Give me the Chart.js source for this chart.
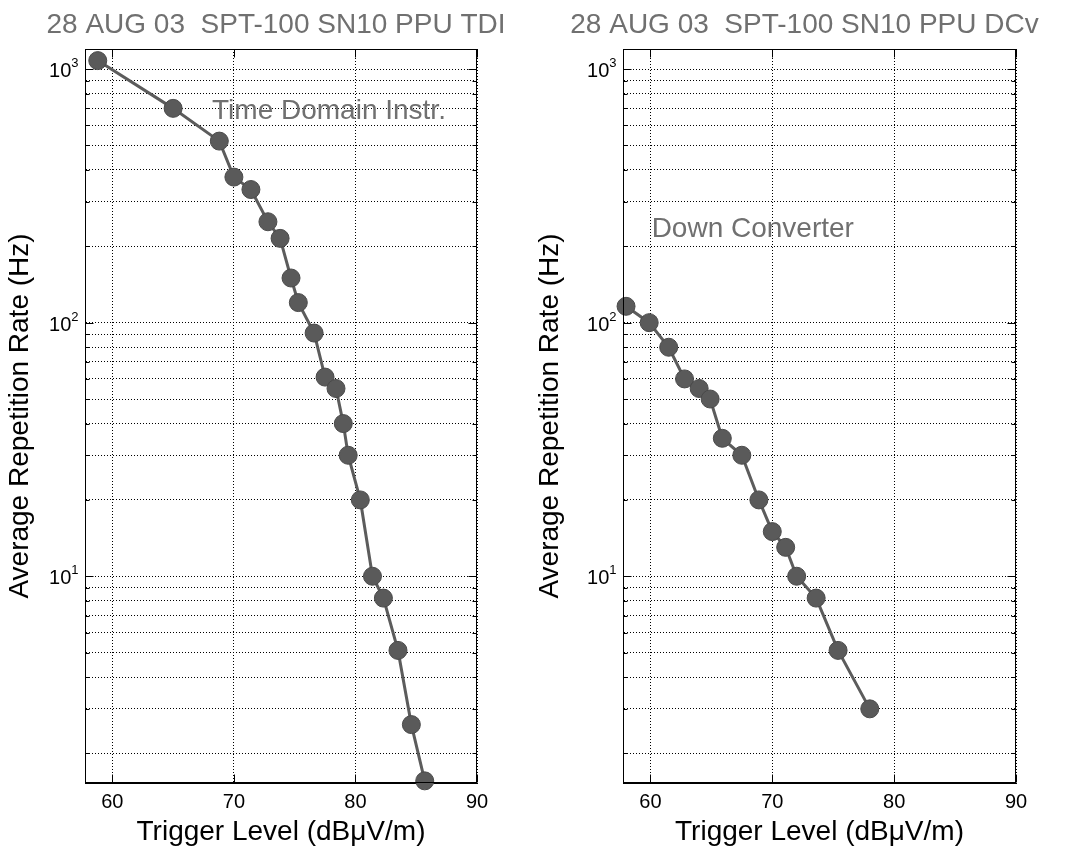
<!DOCTYPE html>
<html>
<head>
<meta charset="utf-8">
<script src="https://cdn.jsdelivr.net/npm/chart.js@4.4.0/dist/chart.umd.min.js"></script>
<style>
  body { margin: 0; background: #fff; }
  #wrap { position: relative; width: 1065px; height: 851px; }
  canvas { position: absolute; top: 0; }
</style>
</head>
<body>
<div id="wrap">
  <canvas id="tdi" width="532" height="851" style="left:0"></canvas>
  <canvas id="dcv" width="533" height="851" style="left:532px"></canvas>
</div>
<script>
const tdiLevel = [58.8, 65.0, 68.8, 70.0, 71.4, 72.8, 73.8, 74.7, 75.3, 76.6, 77.5, 78.4, 79.0, 79.4, 80.4, 81.4, 82.3, 83.5, 84.6, 85.7];
const tdiRate = [1080, 700, 520, 375, 335, 250, 215, 150, 120, 91, 61, 55, 40, 30, 20, 10, 8.2, 5.1, 2.6, 1.56];
const dcvLevel = [58.0, 59.9, 61.5, 62.8, 64.0, 64.9, 65.9, 67.5, 68.9, 70.0, 71.1, 72.0, 73.6, 75.4, 78.0];
const dcvRate = [116, 100, 80, 60, 55, 50, 35, 30, 20, 15, 13, 10, 8.2, 5.1, 3.0];

const xTicks = [60, 70, 80, 90];
const decades = [1, 10, 100, 1000];
const decadeExp = ['0', '1', '2', '3'];
const xMin = 57.75, xMax = 90;
const yMin = 1.53, yMax = 1200;

const FONT = '"Liberation Sans", Arial, sans-serif';
Chart.defaults.font.family = FONT;

function logTicks() {
    const out = [];
    decades.forEach(d => {
        for (let m = 1; m <= 9; m++) {
            const v = m * d;
            if (v >= yMin && v <= yMax) out.push({ value: v, major: m === 1 });
        }
    });
    return out;
}

// matlab style box with inward ticks, 10^n labels and heading
const boxPlugin = {
    id: 'box',
    afterDraw(chart, args, opts) {
        const { ctx, chartArea: a, scales: { x, y } } = chart;
        const L = Math.round(a.left) + 0.5, R = Math.round(a.right) - 0.5;
        const T = Math.round(a.top) + 0.5, B = Math.round(a.bottom) - 0.5;
        ctx.save();
        ctx.strokeStyle = '#000';
        ctx.lineWidth = 1;
        ctx.beginPath();
        x.ticks.forEach(t => {
            const px = Math.round(x.getPixelForValue(t.value)) + 0.5;
            ctx.moveTo(px, B); ctx.lineTo(px, B - 8);
            ctx.moveTo(px, T); ctx.lineTo(px, T + 8);
        });
        y.ticks.forEach(t => {
            const py = Math.round(y.getPixelForValue(t.value)) + 0.5;
            const len = t.major ? 8 : 4;
            ctx.moveTo(L, py); ctx.lineTo(L + len, py);
            ctx.moveTo(R, py); ctx.lineTo(R - len, py);
        });
        ctx.stroke();
        ctx.strokeRect(L, T, R - L, B - T);

        // decade labels with raised exponent
        ctx.fillStyle = '#000';
        ctx.textBaseline = 'alphabetic';
        ctx.textAlign = 'right';
        y.ticks.filter(t => t.major).forEach(t => {
            const py = y.getPixelForValue(t.value);
            const exp = decadeExp[decades.indexOf(t.value)];
            ctx.font = '13px ' + FONT;
            const ew = ctx.measureText(exp).width;
            ctx.fillText(exp, L - 7, py - 2);
            ctx.font = '20px ' + FONT;
            ctx.fillText('10', L - 7 - ew, py + 8);
        });

        // heading
        ctx.font = '28px ' + FONT;
        ctx.fillStyle = '#707070';
        ctx.textAlign = 'center';
        ctx.textBaseline = 'middle';
        ctx.fillText(opts.heading, (a.left + a.right) / 2 + opts.shift, 25);
        ctx.restore();
    }
};

const notePlugin = {
    id: 'note',
    afterDatasetsDraw(chart, args, opts) {
        const { ctx, scales: { x, y } } = chart;
        ctx.save();
        ctx.font = '28px ' + FONT;
        ctx.fillStyle = '#707070';
        ctx.textAlign = 'left';
        ctx.textBaseline = 'middle';
        ctx.fillText(opts.text, x.getPixelForValue(opts.x), y.getPixelForValue(opts.y));
        ctx.restore();
    }
};

function makeChart(id, title, shift, levels, rates, note, yWidth, yTitlePad, rightPad) {
    return new Chart(document.getElementById(id), {
        type: 'line',
        data: {
            datasets: [{
                data: levels.map((v, i) => ({ x: v, y: rates[i] })),
                borderColor: '#5c5c5c',
                borderWidth: 3,
                backgroundColor: '#5a5a5a',
                pointBackgroundColor: '#5a5a5a',
                pointBorderColor: '#4a4a4a',
                pointBorderWidth: 1,
                pointRadius: 9,
                tension: 0,
                fill: false,
                clip: false
            }]
        },
        options: {
            responsive: false,
            animation: false,
            devicePixelRatio: 1,
            layout: { padding: { left: 0, right: rightPad, top: 49, bottom: 0 } },
            plugins: {
                legend: { display: false },
                tooltip: { enabled: false },
                title: { display: false },
                box: { heading: title, shift: shift },
                note: note
            },
            scales: {
                x: {
                    type: 'linear',
                    min: xMin,
                    max: xMax,
                    afterBuildTicks: s => { s.ticks = xTicks.map(v => ({ value: v })); },
                    afterFit: s => { s.height = 68; },
                    grid: { color: '#000', lineWidth: 1, drawTicks: false },
                    border: { display: true, color: '#000', dash: [1, 2] },
                    ticks: { color: '#000', font: { size: 20 }, padding: 7, maxRotation: 0 },
                    title: {
                        display: true,
                        text: 'Trigger Level (dB\u03bcV/m)',
                        color: '#000',
                        font: { size: 28 },
                        padding: { top: 0, bottom: 2 }
                    }
                },
                y: {
                    type: 'logarithmic',
                    min: yMin,
                    max: yMax,
                    afterBuildTicks: s => { s.ticks = logTicks(); },
                    afterFit: s => { s.width = yWidth; },
                    grid: { color: '#000', lineWidth: 1, drawTicks: false },
                    border: { display: true, color: '#000', dash: [1, 2] },
                    ticks: { display: false, autoSkip: false },
                    title: {
                        display: true,
                        text: 'Average Repetition Rate (Hz)',
                        color: '#000',
                        font: { size: 28 },
                        padding: { top: yTitlePad, bottom: 0 }
                    }
                }
            }
        },
        plugins: [boxPlugin, notePlugin]
    });
}

makeChart('tdi', '28 AUG 03  SPT-100 SN10 PPU TDI', -5, tdiLevel, tdiRate,
    { text: 'Time Domain Instr.', x: 68.2, y: 680 }, 85, 3, 55);
makeChart('dcv', '28 AUG 03  SPT-100 SN10 PPU DCv', -15, dcvLevel, dcvRate,
    { text: 'Down Converter', x: 60.1, y: 234 }, 91, 1, 49);
</script>
</body>
</html>
